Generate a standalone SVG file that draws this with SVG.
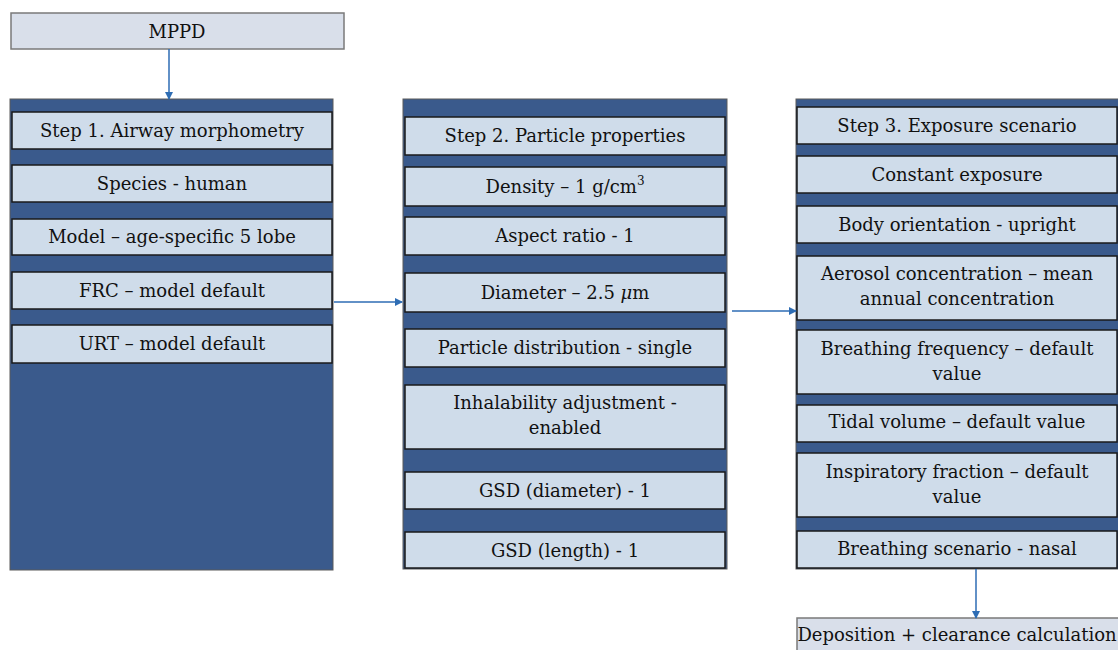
<svg xmlns="http://www.w3.org/2000/svg" width="1118" height="650" viewBox="0 0 1118 650">
<defs>
<marker id="ah" markerWidth="8" markerHeight="8" refX="7" refY="4" orient="auto" markerUnits="userSpaceOnUse"><path d="M0,0 L8,4 L0,8 Z" fill="#2e6db4"/></marker>
<style>
.panel{fill:#3a5a8c;stroke:#5a5a5a;stroke-width:1}
.box{fill:#cfdcea;stroke:#1a1a1a;stroke-width:1.5}
.top{fill:#d9dfea;stroke:#7a7a7a;stroke-width:1.5}
text{font-family:"DejaVu Serif","Liberation Serif",serif;font-size:18px;fill:#111;text-anchor:middle}
.conn{stroke:#2e6db4;stroke-width:1.5;fill:none;marker-end:url(#ah)}
</style>
</defs>
<g id="mppd"><rect class="top" x="11" y="13" width="333" height="36"/><text x="177" y="38">MPPD</text></g>
<g id="step1">
<rect class="panel" x="10" y="99" width="323" height="471"/>
<rect class="box" x="12" y="112" width="320" height="37"/><text x="172" y="137">Step 1. Airway morphometry</text>
<rect class="box" x="12" y="165" width="320" height="37"/><text x="172" y="190">Species - human</text>
<rect class="box" x="12" y="219" width="320" height="36"/><text x="172" y="243">Model – age-specific 5 lobe</text>
<rect class="box" x="12" y="272" width="320" height="37"/><text x="172" y="297">FRC – model default</text>
<rect class="box" x="12" y="325" width="320" height="38"/><text x="172" y="350">URT – model default</text>
</g>
<g id="step2">
<rect class="panel" x="403" y="99" width="324" height="470"/>
<rect class="box" x="405" y="117" width="320" height="38"/><text x="565" y="142">Step 2. Particle properties</text>
<rect class="box" x="405" y="167" width="320" height="39"/><text x="565" y="193">Density – 1 g/cm<tspan font-size="12" dy="-8">3</tspan></text>
<rect class="box" x="405" y="217" width="320" height="38"/><text x="565" y="242">Aspect ratio - 1</text>
<rect class="box" x="405" y="273" width="320" height="39"/><text x="565" y="299">Diameter – 2.5 <tspan font-style="italic">μ</tspan>m</text>
<rect class="box" x="405" y="329" width="320" height="38"/><text x="565" y="354">Particle distribution - single</text>
<rect class="box" x="405" y="385" width="320" height="64"/><text x="565" y="409">Inhalability adjustment -</text><text x="565" y="434">enabled</text>
<rect class="box" x="405" y="472" width="320" height="37"/><text x="565" y="497">GSD (diameter) - 1</text>
<rect class="box" x="405" y="532" width="320" height="36"/><text x="565" y="557">GSD (length) - 1</text>
</g>
<g id="step3">
<rect class="panel" x="796" y="99" width="325" height="470"/>
<rect class="box" x="797" y="107" width="320" height="37"/><text x="957" y="132">Step 3. Exposure scenario</text>
<rect class="box" x="797" y="156" width="320" height="37"/><text x="957" y="181">Constant exposure</text>
<rect class="box" x="797" y="206" width="320" height="37"/><text x="957" y="231">Body orientation - upright</text>
<rect class="box" x="797" y="256" width="320" height="64"/><text x="957" y="280">Aerosol concentration – mean</text><text x="957" y="305">annual concentration</text>
<rect class="box" x="797" y="330" width="320" height="64"/><text x="957" y="355">Breathing frequency – default</text><text x="957" y="380">value</text>
<rect class="box" x="797" y="405" width="320" height="37"/><text x="957" y="428">Tidal volume – default value</text>
<rect class="box" x="797" y="453" width="320" height="64"/><text x="957" y="478">Inspiratory fraction – default</text><text x="957" y="503">value</text>
<rect class="box" x="797" y="531" width="320" height="37"/><text x="957" y="555">Breathing scenario - nasal</text>
</g>
<g id="deposition"><rect class="top" x="797" y="618" width="325" height="40"/><text x="957" y="641">Deposition + clearance calculation</text></g>
<g id="connectors">
<line class="conn" x1="169" y1="49" x2="169" y2="99"/>
<line class="conn" x1="334" y1="302" x2="402" y2="302"/>
<line class="conn" x1="732" y1="311" x2="796" y2="311"/>
<line class="conn" x1="976" y1="569" x2="976" y2="618"/>
</g>
</svg>
